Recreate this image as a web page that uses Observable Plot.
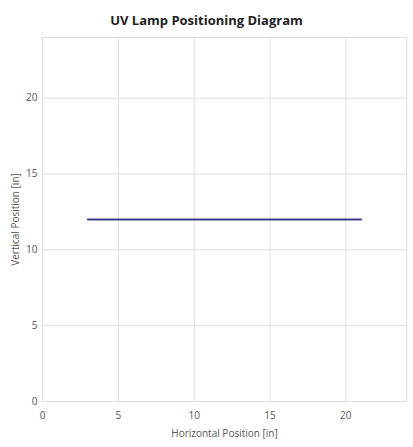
<!DOCTYPE html>
<html><head><meta charset="utf-8">
<script src="https://cdn.jsdelivr.net/npm/d3@7"></script>
<script src="https://cdn.jsdelivr.net/npm/@observablehq/plot@0.6"></script>
<style>
body{margin:0;background:#fff;font-family:"Open Sans",sans-serif;}
#title{height:36px;line-height:40px;text-align:center;font-weight:bold;font-size:13px;color:#222;width:413px;}
</style></head>
<body>
<div id="title">UV Lamp Positioning Diagram</div>
<div id="chart"></div>
<script>
const lampX = [3, 21];
const lampY = [12, 12];
const xTicks = [0, 5, 10, 15, 20];
const yTicks = [0, 5, 10, 15, 20];
const xLabel = "Horizontal Position [in]";
const yLabel = "Vertical Position [in]";

const lamp = lampX.map((x, i) => ({x, y: lampY[i]}));

const chart = Plot.plot({
  width: 413,
  height: 411,
  marginTop: 1,
  marginBottom: 46,
  marginLeft: 42,
  marginRight: 7,
  style: {fontFamily: "Open Sans, sans-serif", fontSize: "10px", color: "#555"},
  x: {domain: [0, 24]},
  y: {domain: [0, 24]},
  marks: [
    Plot.ruleX(xTicks.slice(1), {stroke: "#ddd", strokeWidth: 1}),
    Plot.ruleY(yTicks.slice(1), {stroke: "#ddd", strokeWidth: 1}),
    Plot.frame({stroke: "#ddd"}),
    Plot.axisX({ticks: xTicks, tickSize: 0, tickPadding: 10, label: xLabel, labelAnchor: "center", labelArrow: "none", labelOffset: 35, fill: "#555"}),
    Plot.axisY({ticks: yTicks, tickSize: 0, tickPadding: 5, label: yLabel, labelAnchor: "center", labelArrow: "none", labelOffset: 31, fill: "#555"}),
    Plot.line(lamp, {x: "x", y: "y", stroke: "#3d3a8c", strokeWidth: 2.2})
  ]
});
document.getElementById("chart").appendChild(chart);
</script>
</body></html>
